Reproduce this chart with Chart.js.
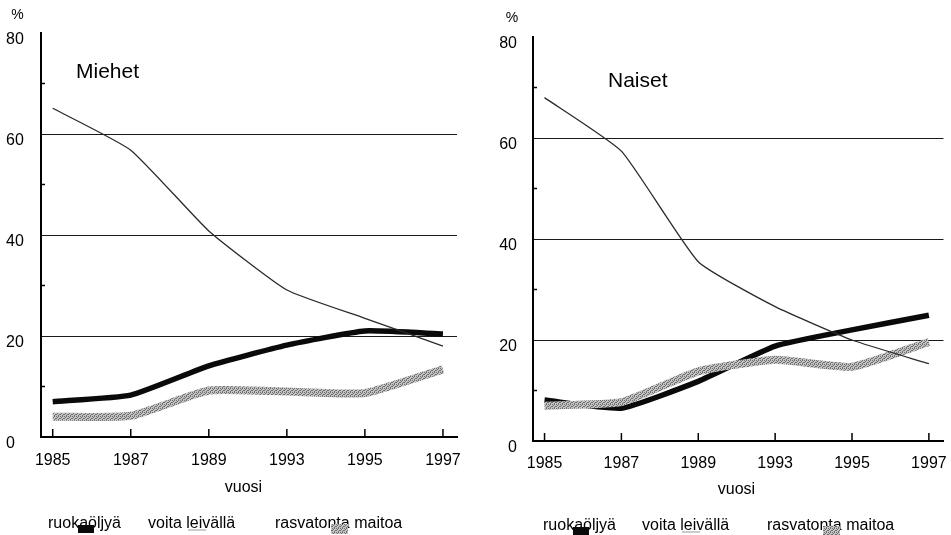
<!DOCTYPE html>
<html>
<head>
<meta charset="utf-8">
<script src="https://cdn.jsdelivr.net/npm/chart.js@4.4.0/dist/chart.umd.min.js"></script>
<style>
  html, body { margin: 0; padding: 0; background: #fff; width: 951px; height: 535px; overflow: hidden; }
  canvas { position: absolute; top: 0; }
  #men { left: 0; }
  #women { left: 480px; }
</style>
</head>
<body>
<canvas id="men" width="478" height="535"></canvas>
<canvas id="women" width="480" height="535"></canvas>
<script>
const years = ["1985", "1987", "1989", "1993", "1995", "1997"];
const seriesNames = ["ruokaöljyä", "voita leivällä", "rasvatonta maitoa"];
const yLabels = [0, 20, 40, 60, 80];

const menOil = [7.0, 8.3, 14.1, 18.2, 21.0, 20.4];
const menButter = [65.1, 56.8, 40.8, 29.1, 23.5, 18.0];
const menMilk = [4.0, 4.2, 9.2, 9.0, 8.7, 13.4];

const womenOil = [8.1, 6.5, 11.8, 18.8, 22.0, 24.9];
const womenButter = [68.0, 57.4, 35.5, 26.6, 20.0, 15.3];
const womenMilk = [7.0, 7.7, 13.8, 16.1, 14.7, 19.6];

const FONT = "'Liberation Sans', Arial, Helvetica, sans-serif";

function stipple(ctx) {
  const c = document.createElement("canvas");
  c.width = 4;
  c.height = 4;
  const g = c.getContext("2d");
  g.fillStyle = "#c4c4c4";
  g.fillRect(0, 0, 4, 4);
  g.fillStyle = "#6e6e6e";
  [[0, 0], [2, 0], [1, 1], [3, 2], [0, 2], [2, 3]].forEach((p) => g.fillRect(p[0], p[1], 1, 1));
  return ctx.createPattern(c, "repeat");
}

const pts = (vals) => vals.map((v, i) => ({ x: i, y: v }));

// tick marks pointing into the plot, texts and legend
const decor = {
  id: "decor",
  beforeDatasetsDraw(chart, args, o) {
    const ctx = chart.ctx;
    const a = chart.chartArea;
    const xs = chart.scales.x;
    const ys = chart.scales.y;
    ctx.save();
    ctx.strokeStyle = "#000";
    ctx.lineWidth = 1.5;
    years.forEach((_, i) => {
      const px = xs.getPixelForValue(i);
      ctx.beginPath();
      ctx.moveTo(px, a.bottom);
      ctx.lineTo(px, a.bottom - 8);
      ctx.stroke();
    });
    [10, 30, 50, 70].forEach((v) => {
      const py = ys.getPixelForValue(v);
      ctx.beginPath();
      ctx.moveTo(a.left, py);
      ctx.lineTo(a.left + 4, py);
      ctx.stroke();
    });
    ctx.restore();
  },
  afterDraw(chart, args, o) {
    const ctx = chart.ctx;
    ctx.save();
    ctx.fillStyle = "#000";
    ctx.textBaseline = "middle";
    ctx.textAlign = "center";
    ctx.font = "14px " + FONT;
    ctx.fillText("%", o.pct[0], o.pct[1]);
    ctx.font = "16px " + FONT;
    ctx.fillText("vuosi", o.vuosi[0], o.vuosi[1]);
    ctx.textAlign = "left";
    ctx.textBaseline = "alphabetic";
    ctx.font = "21px " + FONT;
    ctx.fillText(o.title, o.titlePos[0], o.titlePos[1]);

    // legend
    const ds = chart.data.datasets;
    const byName = (n) => ds.find((d) => d.label === n);
    const b = o.legendY;
    ctx.font = "16px " + FONT;
    seriesNames.forEach((n, i) => {
      ctx.fillStyle = "#000";
      ctx.fillText(n, o.legendX[i], b);
    });
    const x0 = o.legendX[0], x1 = o.legendX[1], x2 = o.legendX[2];
    ctx.fillStyle = byName(seriesNames[0]).borderColor;
    ctx.fillRect(x0 + 30, b - 3, 16, 8);
    ctx.strokeStyle = "#999";
    ctx.lineWidth = 1;
    ctx.beginPath();
    ctx.moveTo(x1 + 40, b + 2);
    ctx.lineTo(x1 + 58, b + 2);
    ctx.stroke();
    ctx.fillStyle = byName(seriesNames[2]).borderColor;
    ctx.fillRect(x2 + 56, b - 4, 17, 10);
    ctx.restore();
  }
};

function makeChart(id, oil, butter, milk, cfg) {
  const ctx = document.getElementById(id).getContext("2d");
  const gray = stipple(ctx);
  const font = { family: FONT, size: 16 };
  return new Chart(ctx, {
    type: "line",
    data: {
      datasets: [
        { label: seriesNames[1], data: pts(butter), borderColor: "#2a2a2a", borderWidth: 1.3, order: 0 },
        { label: seriesNames[2], data: pts(milk), borderColor: gray, borderWidth: 8, order: 1 },
        { label: seriesNames[0], data: pts(oil), borderColor: "#0a0a0a", borderWidth: 5.5, order: 2 }
      ]
    },
    options: {
      responsive: false,
      animation: false,
      events: [],
      layout: { padding: cfg.padding },
      elements: {
        point: { radius: 0 },
        line: { tension: 0.15, borderCapStyle: "butt", borderJoinStyle: "round" }
      },
      plugins: {
        legend: { display: false },
        tooltip: { enabled: false },
        decor: cfg.decor
      },
      scales: {
        x: {
          type: "linear",
          min: -0.15,
          max: cfg.xMax,
          afterBuildTicks: (s) => { s.ticks = years.map((_, i) => ({ value: i })); },
          afterFit: (s) => { s.height = cfg.xHeight; },
          grid: { display: false, drawTicks: false },
          border: { display: true, color: "#000", width: 2 },
          ticks: {
            callback: (v) => years[v],
            padding: cfg.xPad,
            color: "#000",
            font: font,
            maxRotation: 0,
            autoSkip: false
          }
        },
        y: {
          min: 0,
          max: 80,
          afterFit: (s) => { s.width = cfg.yWidth; },
          grid: {
            color: (c) => (c.tick.value % 20 === 0 && c.tick.value > 0 && c.tick.value < 80) ? "#1a1a1a" : "rgba(0,0,0,0)",
            lineWidth: 1,
            drawTicks: false
          },
          border: { display: true, color: "#000", width: 2 },
          ticks: {
            stepSize: 10,
            callback: (v) => (yLabels.includes(v) ? String(v) : ""),
            crossAlign: cfg.yAlign,
            padding: 16,
            labelOffset: 7,
            color: "#000",
            font: font
          }
        }
      }
    },
    plugins: [decor]
  });
}

makeChart("men", menOil, menButter, menMilk, {
  padding: { left: 6, top: 33, right: 21, bottom: 0 },
  yWidth: 35,
  yAlign: "far",
  xHeight: 98,
  xPad: 14,
  xMax: 5.18,
  decor: {
    pct: [17.5, 15],
    title: "Miehet",
    titlePos: [76, 78],
    vuosi: [243.5, 488],
    legendX: [48, 148, 275],
    legendY: 528
  }
});

makeChart("women", womenOil, womenButter, womenMilk, {
  padding: { left: 0, top: 37, right: 9, bottom: 0 },
  yWidth: 53,
  yAlign: "near",
  xHeight: 94,
  xPad: 13,
  xMax: 5.19,
  decor: {
    pct: [32, 18],
    title: "Naiset",
    titlePos: [128, 87],
    vuosi: [256.5, 490],
    legendX: [63, 162, 287],
    legendY: 530
  }
});
</script>
</body>
</html>
